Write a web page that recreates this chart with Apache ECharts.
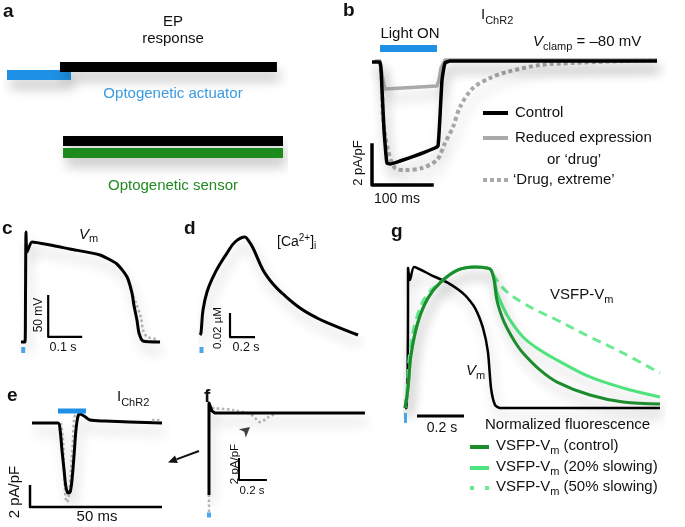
<!DOCTYPE html>
<html><head><meta charset="utf-8">
<script src="https://cdn.jsdelivr.net/npm/echarts@6/dist/echarts.min.js"></script>
<style>html,body{margin:0;padding:0;background:#fff}#c{width:685px;height:527px}</style>
</head><body><div id="c"></div>
<script>
// ---------- DATA ----------
// Panel a: schematic timing bars (percent of timeline, row level)
const aRowNames = ['Actuator light', 'EP response (actuator)', 'EP response (sensor)', 'Optogenetic sensor'];
const aStart = [0, 19.2, 20.3, 20.3];
const aEnd = [23.2, 97.8, 100, 100];
const aLevel = [7.5, 6.7, 14.1, 15.3];

// Panel b: I_ChR2 (ms, pA/pF)
const bControl = [[0,-0.05],[13.3,-0.05],[16.7,-1.45],[20,-3.45],[23.3,-4.7],[25,-5.1],[30,-5.15],[46.7,-5.0],[80,-4.65],[105,-4.35],[110,-4.25],[113,-2.95],[116.7,-0.95],[121.7,-0.1],[130,0],[475,0]];
const bReduced = [[5,0],[13.3,0],[16.7,-0.7],[21.7,-1.4],[108.3,-1.25],[111.7,-0.95],[115,-0.35],[121.7,0.05],[475,0.05]];
const bDrugExtreme = [[13.3,-0.05],[16.7,-1.1],[18.3,-2.8],[26.7,-4.45],[38.3,-5.35],[55,-5.45],[83.3,-5.35],[108.3,-4.95],[121.7,-4.1],[135,-3.3],[146.7,-2.3],[168.3,-1.35],[196.7,-0.85],[225,-0.55],[280,-0.2],[335,-0.1],[391.7,-0.03],[475,0.05]];
const bLightOn = [[13.3,0.625],[108.3,0.625]];
const bScaleBar = [[0,-4.2],[0,-6.2],[100,-6.2]];   // 2 pA/pF, 100 ms

// Panel c: Vm (ms, mV)
const cVm = [[0,-85],[11.8,-85],[13.2,-35],[14.7,46],[17.6,22],[32.4,34],[85,30.5],[144,25.7],[232,18.6],[282,7.9],[312,-7.6],[326.5,-26.7],[332,-41],[341,-58.8],[347,-74.3],[359,-83.8],[409,-85]];
const cVmDrug = [[312,-7.6],[326.5,-26.7],[338,-38.6],[353,-56.4],[359,-70.7],[371,-79],[403,-81.4]];
const cScaleBar = [[80,-29],[80,-79],[180,-79]];    // 50 mV, 0.1 s
const cStim = [[6.5,-94.5]];

// Panel d: [Ca2+]i (s, µM)
const dCa = [[0,0],[0.008,0.0017],[0.024,0.0208],[0.056,0.0358],[0.104,0.0483],[0.16,0.0592],[0.216,0.0683],[0.28,0.0775],[0.36,0.0817],[0.384,0.0792],[0.424,0.0725],[0.504,0.0542],[0.584,0.0425],[0.664,0.0342],[0.8,0.0225],[0.936,0.0142],[1.064,0.0083],[1.264,0]];
const dScaleBar = [[0.24,0.0183],[0.24,-0.0017],[0.44,-0.0017]]; // 0.02 µM, 0.2 s
const dStim = [[0.012,-0.0125]];

// Panel e: I_ChR2 zoom (ms, pA/pF)
const eIChR2 = [[0.76,0],[10.6,0],[11.4,-0.64],[12.1,-2.45],[12.9,-4.27],[13.6,-5.8],[14.4,-6.36],[15.2,-6.27],[15.9,-5.2],[16.7,-2.9],[17.4,-0.64],[18.2,0.64],[18.9,0.82],[20.5,0.64],[22.7,0.27],[28.4,0.18],[50,0]];
const eIChR2Drug = [[11.7,0],[12.5,-1.55],[12.9,-4.3],[13.3,-6.1],[13.6,-7],[14,-7.2],[14.8,-6.5],[15.5,-4.3],[16.3,-1.55],[16.7,0.45],[17.4,0.73],[18.9,0.64]];
const eIChR2DrugTail = [[46.2,0.27],[50,0.27]];
const eLightOn = [[10.6,1.09],[21.2,1.09]];
const eScaleBar = [[0,-5.64],[0,-7.64],[50,-7.64]]; // 2 pA/pF, 50 ms

// Panel f: I_ChR2 long (s, pA/pF)
const fIChR2 = [[0,-7.45],[0,0.91],[0.021,0.18],[0.043,0],[1.114,0]];
const fIChR2DrugLow = [[0,-9],[0,-7.45]];
const fIChR2DrugTop = [[0.021,0.45],[0.171,0.27],[0.293,-0.09],[0.329,-0.45],[0.364,-0.82],[0.386,-0.73],[0.414,-0.45],[0.486,0]];
const fScaleBar = [[0.214,-4.09],[0.214,-6.09],[0.414,-6.09]]; // 2 pA/pF, 0.2 s
const fStim = [[0,-9.27]];
const fArrowMark = [[0.293,-1.27]];

// Panel g: normalized (s, a.u.)
const gVm = [[0,0],[0.0085,0],[0.0128,0.766],[0.0128,0.993],[0.0213,0.908],[0.0383,1.0],[0.111,0.943],[0.183,0.887],[0.255,0.801],[0.298,0.709],[0.332,0.567],[0.353,0.397],[0.366,0.142],[0.383,0.021],[0.404,0],[1.085,0]];
const gControl = [[0,0],[0.0128,0.142],[0.0255,0.376],[0.0553,0.61],[0.0979,0.78],[0.153,0.894],[0.226,0.979],[0.298,1.0],[0.349,0.993],[0.366,0.979],[0.379,0.908],[0.391,0.766],[0.413,0.645],[0.434,0.567],[0.468,0.468],[0.502,0.39],[0.574,0.27],[0.647,0.184],[0.787,0.092],[0.928,0.043],[1.085,0.028]];
const gSlow20 = [[0,0],[0.0128,0.142],[0.0255,0.376],[0.0553,0.61],[0.0979,0.78],[0.153,0.894],[0.226,0.979],[0.298,1.0],[0.349,0.993],[0.366,0.979],[0.379,0.922],[0.391,0.823],[0.417,0.716],[0.447,0.624],[0.502,0.504],[0.574,0.411],[0.647,0.34],[0.787,0.22],[0.928,0.142],[1.085,0.078]];
const gSlow50 = [[0,0],[0.0085,0.128],[0.021,0.411],[0.047,0.624],[0.089,0.794],[0.153,0.894],[0.226,0.979],[0.298,1.0],[0.349,0.993],[0.366,0.979],[0.379,0.936],[0.396,0.894],[0.434,0.823],[0.502,0.745],[0.574,0.681],[0.647,0.624],[0.787,0.504],[0.928,0.39],[1.085,0.248]];
const gScaleBar = [[0.051,-0.057],[0.251,-0.057]]; // 0.2 s
const gStim = [[0.002,-0.07]];

// ---------- STYLE / LAYOUT ----------
const FF = "'Liberation Sans', Arial, Helvetica, sans-serif";
const BLUE = '#1e91e6', BLACK = '#000', GRAY = '#a9a9a9', DOT = '#b8b8b8';
const DKGREEN = '#1c8c2c', LTGREEN = '#4fe37d', DASHGREEN = '#6aea90', BARGREEN = '#1b8c1b';
const SH = {shadowColor:'rgba(0,0,0,0.22)', shadowBlur:12, shadowOffsetX:3, shadowOffsetY:9};

const grids = [
  {left:7, top:0, width:276, height:200},
  {left:372, top:41, width:300, height:150},
  {left:21, top:228.6, width:153, height:126},
  {left:200, top:227, width:162.5, height:127.2},
  {left:30, top:401, width:137.28, height:110},
  {left:209, top:391, width:161, height:132},
  {left:405, top:252.9, width:258.5, height:169.2}
].map(g => Object.assign({containLabel:false, outerBoundsMode:'none'}, g));
const xr = [[0,100],[0,500],[0,450],[0,1.3],[0,52],[0,1.15],[0,1.1]];
const yr = [[0,20,true],[-6.5,1],[-100,50],[-0.016,0.09],[-8,2],[-10,2],[-0.1,1.1]];
const xAxes = xr.map((r,i)=>({type:'value', gridIndex:i, min:r[0], max:r[1], show:false, splitLine:{show:false}}));
const yAxes = yr.map((r,i)=>({type:'value', gridIndex:i, min:r[0], max:r[1], inverse:!!r[2], show:false, splitLine:{show:false}}));

function line(gi, data, color, width, extra) {
  extra = extra || {};
  return {type:'line', xAxisIndex:gi, yAxisIndex:gi, data, showSymbol:false, symbol:'none', clip:false,
    silent:true, animation:false, z: extra.z || 2, smooth: extra.smooth || false,
    lineStyle: Object.assign({color, width, type: extra.type || 'solid', cap: extra.cap || 'butt', join:'round'}, extra.shadow ? SH : {}),
    itemStyle:{color}};
}
function marker(gi, data, color, size, symbol, rot) {
  return {type:'scatter', xAxisIndex:gi, yAxisIndex:gi, data, symbol: symbol || 'rect', symbolSize:size,
    symbolRotate: rot || 0, itemStyle:{color}, silent:true, animation:false, clip:false, z:3};
}

const series = [];
const aColors = [BLUE, BLACK, BLACK, BARGREEN];
aStart.forEach((s,i)=>{
  series.push(line(0, [[s, aLevel[i]], [aEnd[i], aLevel[i]]], aColors[i], 10, {shadow:true}));
});
// b
series.push(line(1, bDrugExtreme, GRAY, 4, {type:[4,3], shadow:true, smooth:0.3}));
series.push(line(1, bReduced, GRAY, 3.5, {shadow:true}));
series.push(line(1, bControl, BLACK, 3.5, {shadow:true, smooth:0.15}));
series.push(line(1, bLightOn, BLUE, 7));
series.push(line(1, bScaleBar, BLACK, 3.5, {cap:'square'}));
// c
series.push(line(2, cVmDrug, DOT, 2.5, {type:[2.5,2.5], smooth:0.3}));
series.push(line(2, cVm, BLACK, 3, {shadow:true, smooth:0.2}));
series.push(line(2, cScaleBar, BLACK, 2.2));
series.push(marker(2, cStim, BLUE, [4,6]));
// d
series.push(line(3, dCa, BLACK, 3, {shadow:true, smooth:0.4}));
series.push(line(3, dScaleBar, BLACK, 2.2));
series.push(marker(3, dStim, BLUE, [4,6]));
// e
series.push(line(4, eIChR2Drug, DOT, 2.5, {type:[2.5,2.5], smooth:0.3}));
series.push(line(4, eIChR2, BLACK, 3, {shadow:true, smooth:0.3}));
series.push(line(4, eIChR2DrugTail, DOT, 2.5, {type:[2.5,2.5], z:3}));
series.push(line(4, eLightOn, BLUE, 5));
series.push(line(4, eScaleBar, BLACK, 2.5));
// f
series.push(line(5, fIChR2DrugLow, DOT, 2.5, {type:[2.5,2.5]}));
series.push(line(5, fIChR2DrugTop, DOT, 2.5, {type:[2.5,2.5], smooth:0.3}));
series.push(line(5, fIChR2, BLACK, 3, {shadow:true}));
series.push(line(5, fScaleBar, BLACK, 2));
series.push(marker(5, fStim, BLUE, [4,5]));
series.push(marker(5, fArrowMark, '#111', [8,10], 'arrow', -50));
// g
series.push(line(6, gVm, BLACK, 2.5, {shadow:true, smooth:0.2}));
series.push(line(6, gSlow50, DASHGREEN, 3, {type:[9,6], smooth:0.35}));
series.push(line(6, gSlow20, LTGREEN, 3, {shadow:true, smooth:0.35}));
series.push(line(6, gControl, DKGREEN, 3, {shadow:true, smooth:0.35}));
series.push(line(6, gScaleBar, BLACK, 3));
series.push(marker(6, gStim, BLUE, [3,10]));

// ---------- TEXT ----------
const mctx = document.createElement('canvas').getContext('2d');
function fontStr(p){ return (p.italic?'italic ':'') + (p.bold?'bold ':'') + p.size + 'px ' + FF; }
const graphics = [];
function run(x, base, parts, align, color) {
  if (typeof parts === 'string') parts = [{t:parts, size:15}];
  let w = 0;
  parts.forEach(p=>{ p.size = p.size || 15; mctx.font = fontStr(p); p.w = mctx.measureText(p.t).width; w += p.w; });
  let cx = align === 'center' ? x - w/2 : x;
  parts.forEach(p=>{
    graphics.push({type:'text', x:cx, y: base + (p.dy||0) - 0.35*p.size, silent:true,
      style:{text:p.t, font:fontStr(p), fill: p.color || color || '#111', align:'left', verticalAlign:'middle', textAlign:'left', textVerticalAlign:'middle'}});
    cx += p.w;
  });
}
function rot(x, y, text, size) {
  graphics.push({type:'text', x, y, rotation:Math.PI/2, silent:true,
    style:{text, font: size + 'px ' + FF, fill:'#111', align:'center', verticalAlign:'middle', textAlign:'center', textVerticalAlign:'middle'}});
}
function key(x1, x2, y, color, w, dash) {
  graphics.push({type:'line', silent:true, shape:{x1, y1:y, x2, y2:y}, style:{stroke:color, lineWidth:w, lineDash: dash || null}});
}
// panel letters
run(3, 18.5, [{t:'a', size:19, bold:true}]);
run(343, 17, [{t:'b', size:19, bold:true}]);
run(2, 235, [{t:'c', size:19, bold:true}]);
run(184, 235, [{t:'d', size:19, bold:true}]);
run(7, 402, [{t:'e', size:19, bold:true}]);
run(204, 403, [{t:'f', size:19, bold:true}]);
run(391, 238, [{t:'g', size:19, bold:true}]);
// a
run(173, 27, 'EP', 'center');
run(173, 44, 'response', 'center');
run(173, 99, 'Optogenetic actuator', 'center', '#3a9be2');
run(173, 191, 'Optogenetic sensor', 'center', '#228a22');
// b
run(410, 39, 'Light ON', 'center');
run(481, 20, [{t:'I', size:15}, {t:'ChR2', size:11, dy:5}]);
run(533, 47, [{t:'V', size:15, italic:true}, {t:'clamp', size:11, dy:4}, {t:' = \u201380 mV', size:15}]);
run(515, 118, 'Control');
run(515, 143, 'Reduced expression');
run(547, 165, 'or \u2018drug\u2019');
run(513, 185, '\u2018Drug, extreme\u2019');
rot(358, 163, '2 pA/pF', 13);
run(397, 204, [{t:'100 ms', size:14}], 'center');
key(483, 508, 113, BLACK, 4);
key(483, 508, 138, GRAY, 4);
key(483, 508, 180, GRAY, 4, [4,3]);
// c
run(79, 240, [{t:'V', size:15, italic:true}, {t:'m', size:11, dy:3}]);
rot(39, 315, '50 mV', 12);
run(63, 352, [{t:'0.1 s', size:12.5}], 'center');
// d
run(277, 247, [{t:'[Ca', size:14}, {t:'2+', size:10, dy:-5}, {t:']', size:14}, {t:'i', size:10, dy:3}]);
rot(218, 328, '0.02 \u00b5M', 11.5);
run(246, 352, [{t:'0.2 s', size:12.5}], 'center');
// e
run(117, 402, [{t:'I', size:15}, {t:'ChR2', size:11, dy:5}]);
rot(15, 492, '2 pA/pF', 15);
run(97, 522, '50 ms', 'center');
graphics.push({type:'line', silent:true, shape:{x1:199, y1:451, x2:176.4, y2:459.4}, style:{stroke:'#111', lineWidth:2}});
graphics.push({type:'polygon', silent:true, shape:{points:[[168,462.5],[177.8,463.1],[175.0,455.6]]}, style:{fill:'#111'}});
// f
rot(235, 464, '2 pA/pF', 11.5);
run(252, 495, [{t:'0.2 s', size:11.5}], 'center');
// g
run(550, 300, [{t:'VSFP-V', size:15}, {t:'m', size:11, dy:4}]);
run(466, 376, [{t:'V', size:15, italic:true}, {t:'m', size:11, dy:4}]);
run(442, 433, [{t:'0.2 s', size:14}], 'center');
run(485, 430, 'Normalized fluorescence');
run(496, 451, [{t:'VSFP-V'}, {t:'m', size:11, dy:4}, {t:' (control)'}]);
run(496, 472, [{t:'VSFP-V'}, {t:'m', size:11, dy:4}, {t:' (20% slowing)'}]);
run(496, 492, [{t:'VSFP-V'}, {t:'m', size:11, dy:4}, {t:' (50% slowing)'}]);
key(470, 489, 447, DKGREEN, 4);
key(470, 489, 468, LTGREEN, 4);
key(470, 489, 488, DASHGREEN, 4, [4,11]);

const chart = echarts.init(document.getElementById('c'), null, {renderer:'canvas', width:685, height:527});
chart.setOption({
  backgroundColor:'#fff', animation:false,
  grid: grids, xAxis: xAxes, yAxis: yAxes, series, graphic: graphics
});
</script></body></html>
